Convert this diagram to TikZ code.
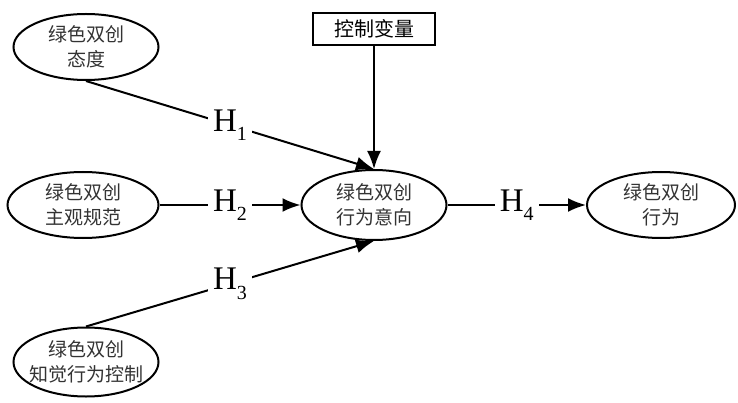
\documentclass[tikz,border=0pt]{standalone}
\usepackage{fontspec}
\setmainfont{Liberation Serif}
\newfontfamily\cjk{Noto Sans CJK SC}
\usetikzlibrary{shapes.geometric,arrows.meta}
\newcommand{\hyp}[1]{H\raisebox{-0.6ex}{\fontsize{10}{10}\selectfont #1}}
\tikzset{
    oval-box/.style = {draw, ellipse, line width=1pt, inner sep=0pt, align=center, text=black!80, font=\cjk\fontsize{9.5}{12.5}\selectfont},
    var-box/.style = {draw, rectangle, line width=1pt, minimum width=61pt, minimum height=16pt, inner sep=0pt, font=\cjk\fontsize{10}{12}\selectfont},
    path-arrow/.style = {line width=1pt, -{Latex[length=9pt,width=7pt]}},
    path-label/.style = {fill=white, inner sep=2.5pt, font=\fontsize{16.5}{16.5}\selectfont},
}

\begin{document}
\begin{tikzpicture}[x=0.5pt,y=0.5pt]
\useasboundingbox (0,0) rectangle (738,402);
\node [oval-box, minimum width=72.5pt, minimum height=33pt] (att) at (86,355) {绿色双创\\态度};
\node [oval-box, minimum width=75.5pt, minimum height=33pt] (norm) at (83,197) {绿色双创\\主观规范};
\node [oval-box, inner xsep=-3pt, minimum width=72.5pt, minimum height=34.5pt] (percept) at (86,40) {绿色双创\\知觉行为控制};
\node [oval-box, minimum width=72.5pt, minimum height=35pt] (intent) at (374,197) {绿色双创\\行为意向};
\node [oval-box, minimum width=74pt, minimum height=33pt] (behav) at (661,197) {绿色双创\\行为};
\node [var-box] (ctrl) at (374,373) {控制变量};

\draw [path-arrow] (att.south) -- node[path-label] {\hyp{1}} (intent.north);
\draw [path-arrow] (norm.east) -- node[path-label] {\hyp{2}} (intent.west);
\draw [path-arrow] (percept.north) -- node[path-label] {\hyp{3}} (intent.south);
\draw [path-arrow] (intent.east) -- node[path-label] {\hyp{4}} (behav.west);
\draw [path-arrow] (ctrl.south) -- (intent.north);
\end{tikzpicture}
\end{document}
